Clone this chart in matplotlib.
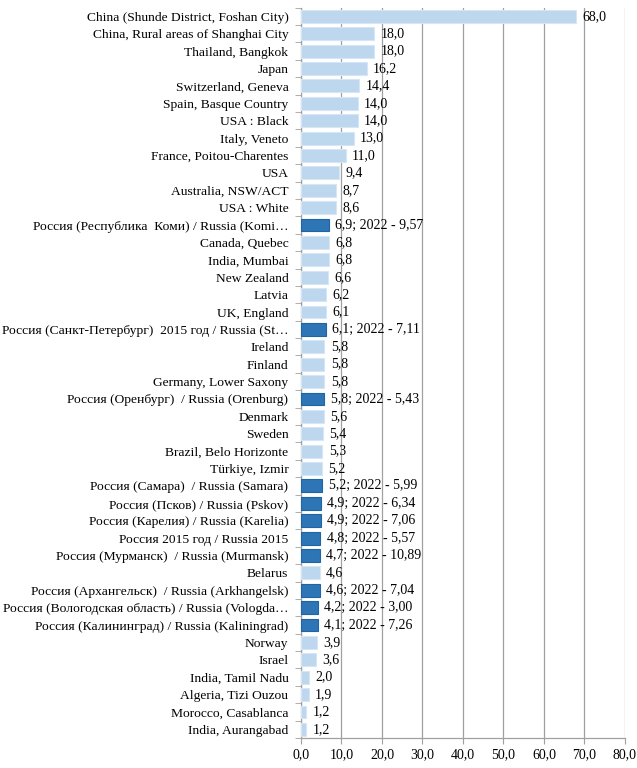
import numpy as np
import matplotlib.pyplot as plt

plt.rcParams['font.family'] = ['Liberation Serif', 'DejaVu Serif']

labels = [
    'China (Shunde District, Foshan City)',
    'China, Rural areas of Shanghai City',
    'Thailand, Bangkok',
    'Japan',
    'Switzerland, Geneva',
    'Spain, Basque Country',
    'USA : Black',
    'Italy, Veneto',
    'France, Poitou-Charentes',
    'USA',
    'Australia, NSW/ACT',
    'USA : White',
    'Россия (Республика  Коми) / Russia (Komi…',
    'Canada, Quebec',
    'India, Mumbai',
    'New Zealand',
    'Latvia',
    'UK, England',
    'Россия (Санкт-Петербург)  2015 год / Russia (St…',
    'Ireland',
    'Finland',
    'Germany, Lower Saxony',
    'Россия (Оренбург)  / Russia (Orenburg)',
    'Denmark',
    'Sweden',
    'Brazil, Belo Horizonte',
    'Türkiye, Izmir',
    'Россия (Самара)  / Russia (Samara)',
    'Россия (Псков) / Russia (Pskov)',
    'Россия (Карелия) / Russia (Karelia)',
    'Россия 2015 год / Russia 2015',
    'Россия (Мурманск)  / Russia (Murmansk)',
    'Belarus',
    'Россия (Архангельск)  / Russia (Arkhangelsk)',
    'Россия (Вологодская область) / Russia (Vologda…',
    'Россия (Калининград) / Russia (Kaliningrad)',
    'Norway',
    'Israel',
    'India, Tamil Nadu',
    'Algeria, Tizi Ouzou',
    'Morocco, Casablanca',
    'India, Aurangabad',
]

values = [68.0, 18.0, 18.0, 16.2, 14.4, 14.0, 14.0, 13.0, 11.0, 9.4, 8.7, 8.6,
          6.9, 6.8, 6.8, 6.6, 6.2, 6.1, 6.1, 5.8, 5.8, 5.8, 5.8, 5.6, 5.4, 5.3,
          5.2, 5.2, 4.9, 4.9, 4.8, 4.7, 4.6, 4.6, 4.2, 4.1, 3.9, 3.6, 2.0, 1.9,
          1.2, 1.2]

# 2022 values for Russian regions (by bar index)
values_2022 = {
    12: '9,57', 18: '7,11', 22: '5,43', 27: '5,99', 28: '6,34', 29: '7,06',
    30: '5,57', 31: '10,89', 33: '7,04', 34: '3,00', 35: '7,26',
}

x_ticks = [0, 10, 20, 30, 40, 50, 60, 70, 80]

light = '#bdd7ee'
dark = '#2e75b6'

fig = plt.figure(figsize=(6.37, 7.68), dpi=100)
ax = fig.add_axes([0.4725, 0.039, 0.5085, 0.951])

n = len(values)
y = np.arange(n)
colors = [dark if i in values_2022 else light for i in range(n)]
edges = ['#1f65a6' if i in values_2022 else '#d6e6f5' for i in range(n)]

ax.barh(y, values, height=0.74, color=colors, edgecolor=edges, linewidth=0.8, zorder=3)

for i, v in enumerate(values):
    txt = f'{v:.1f}'.replace('.', ',')
    if i in values_2022:
        txt += '; 2022 - ' + values_2022[i]
    ax.text(v + 1.6, i, txt, va='center', ha='left', fontsize=10, zorder=4)

ax.set_ylim(n - 0.5, -0.5)
ax.set_xlim(0, 80)
ax.set_yticks(y)
ax.set_yticklabels(labels, fontsize=9.7)
ax.set_yticks(np.arange(n + 1) - 0.5, minor=True)
ax.tick_params(axis='y', which='major', length=0, pad=9)
ax.tick_params(axis='y', which='minor', length=4, color='#a0a0a0')

ax.set_xticks(x_ticks)
ax.set_xticklabels([f'{t:.1f}'.replace('.', ',') for t in x_ticks], fontsize=10)
ax.tick_params(axis='x', length=4, color='#a0a0a0', pad=3)

ax.grid(axis='x', color='#a0a0a0', linewidth=0.9, zorder=0)
for s in ['top', 'right']:
    ax.spines[s].set_visible(False)
for s in ['left', 'bottom']:
    ax.spines[s].set_color('#a0a0a0')
    ax.spines[s].set_linewidth(0.9)

plt.savefig('out.png', dpi=100)
